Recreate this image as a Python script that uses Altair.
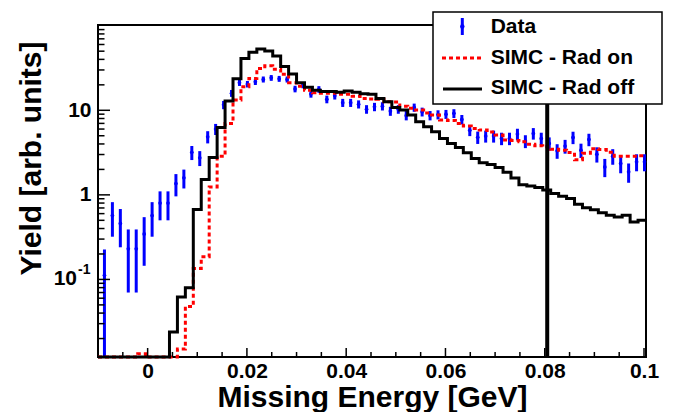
import altair as alt
import pandas as pd

# ---- histogram binning as drawn (GeV) ----
DATA_X0 = -0.0087   # centre of first data bin
SIM_X0 = -0.0100    # low edge of first SIMC bin
BIN_W = 0.0016
N_BINS = 69

# ---- data ----
data_y = [0.112, 0.57, 0.46, 0.23, 0.23, 0.345, 0.57, 0.80, 0.80, 1.36,
          1.59, 3.18, 2.74, 4.86, 6.0, 11.6, 15.9, 21.2, 20.4, 21.7,
          23.2, 24.2, 23.6, 23.2, 17.9, 19.9, 15.6, 17.7, 13.5, 14.9,
          12.3, 12.3, 11.8, 10.3, 11.0, 11.2, 9.8, 10.3, 8.7, 10.8,
          9.6, 8.7, 8.9, 9.0, 9.2, 7.8, 5.8, 4.8, 4.95, 4.95,
          4.65, 4.65, 5.23, 4.32, 5.33, 4.65, 4.06, 3.32, 3.77, 4.78,
          3.38, 4.52, 3.03, 2.14, 2.87, 2.35, 1.87, 2.46, 2.46]
data_err = [0.114, 0.25, 0.22, 0.16, 0.16, 0.2, 0.25, 0.3, 0.3, 0.4,
            0.4, 0.6, 0.55, 0.8, 0.9, 1.3, 1.5, 1.8, 1.8, 1.8,
            1.9, 1.9, 1.9, 1.9, 1.6, 1.7, 1.5, 1.6, 1.4, 1.5,
            1.35, 1.35, 1.3, 1.2, 1.25, 1.25, 1.2, 1.2, 1.1, 1.2,
            1.15, 1.1, 1.1, 1.1, 1.1, 1.0, 0.85, 0.8, 0.8, 0.8,
            0.78, 0.78, 0.82, 0.75, 0.83, 0.78, 0.72, 0.65, 0.7, 0.8,
            0.65, 0.76, 0.62, 0.52, 0.6, 0.55, 0.48, 0.56, 0.56]
rad_on = [0, 0, 0, 0, 0, 0.0132, 0, 0, 0, 0,
          0.015, 0.048, 0.135, 0.185, 1.24, 2.87, 7.0, 13.2, 19.0, 23.8,
          31.3, 33.6, 30.5, 26.6, 21.2, 19.3, 17.3, 16.1, 15.9, 15.9,
          15.5, 15.5, 14.7, 13.8, 13.6, 13.5, 12.6, 12.5, 11.2, 10.6,
          10.05, 9.3, 8.77, 7.66, 7.56, 7.0, 6.5, 6.1, 5.83, 5.53,
          5.09, 4.44, 4.38, 4.24, 3.98, 3.82, 3.70, 3.47, 3.38, 3.16,
          2.6, 3.1, 3.52, 3.43, 3.2, 2.87, 2.87, 2.87, 2.91]
rad_off = [0, 0, 0, 0, 0, 0, 0, 0, 0, 0.0239,
           0.062, 0.080, 0.671, 1.52, 2.77, 6.28, 12.9, 23.6, 41.1, 48.5,
           53.0, 50.2, 44.0, 33.0, 26.8, 21.2, 18.7, 17.3, 16.7, 16.7,
           16.3, 16.9, 16.4, 15.7, 15.5, 13.8, 12.6, 10.8, 10.05, 8.77,
           7.31, 6.38, 5.57, 4.65, 4.06, 3.64, 3.14, 2.70, 2.39, 2.29,
           2.11, 1.85, 1.58, 1.32, 1.27, 1.22, 1.14, 1.04, 0.965, 0.906,
           0.776, 0.706, 0.668, 0.616, 0.575, 0.549, 0.575, 0.479, 0.502]
cut_x = [0.0805]

x_ticks_major = [0, 0.02, 0.04, 0.06, 0.08, 0.1]
x_ticks_minor = [-0.005, 0.005, 0.01, 0.015, 0.025, 0.03, 0.035, 0.045, 0.05,
                 0.055, 0.065, 0.07, 0.075, 0.085, 0.09, 0.095]
y_ticks_major = [0.1, 1, 10]
y_ticks_minor = [0.02, 0.03, 0.04, 0.05, 0.06, 0.07, 0.08, 0.09,
                 0.2, 0.3, 0.4, 0.5, 0.6, 0.7, 0.8, 0.9,
                 2, 3, 4, 5, 6, 7, 8, 9,
                 20, 30, 40, 50, 60, 70, 80, 90]
y_label_values = [1, 10]
legend_labels = ["Data", "SIMC - Rad on", "SIMC - Rad off"]
x_title = "Missing Energy [GeV]"
y_title = "Yield [arb. units]"

YMIN, YMAX = 0.0121, 102
FONT = "Liberation Sans"
BLUE, RED = "#0000ff", "#ff0000"

xs = alt.Scale(domain=[-0.0100, 0.1004], nice=False, zero=False)
ys = alt.Scale(type="log", domain=[YMIN, YMAX], nice=False)

# ---- tables ----
df_data = pd.DataFrame({
    "x": [round(DATA_X0 + k * BIN_W, 6) for k in range(len(data_y))],
    "y": data_y, "err": data_err})
edges = [round(SIM_X0 + j * BIN_W, 6) for j in range(N_BINS + 1)]
df_on = pd.DataFrame({"x": edges, "y": rad_on + [rad_on[-1]]})
df_off = pd.DataFrame({"x": edges, "y": rad_off + [rad_off[-1]]})
one = pd.DataFrame({"a": [0]})

xaxis = alt.Axis(values=x_ticks_major, labelExpr="datum.value == 0 ? '0' : format(datum.value, '.2~f')",
                 domain=False, ticks=False, tickSize=0, grid=False, labelFont=FONT,
                 labelFontSize=21, labelFontWeight="bold", labelColor="black", labelPadding=3,
                 labelFlush=False, labelOverlap=False,
                 title=x_title, titleFont=FONT, titleFontSize=30, titleFontWeight="bold",
                 titleColor="black", titleX=274, titleY=49.5, titleAlign="center",
                 titleBaseline="alphabetic")
yaxis = alt.Axis(values=y_label_values, labelExpr="format(datum.value, '~g')",
                 domain=False, ticks=False, tickSize=0, grid=False, labelFont=FONT,
                 labelFontSize=21, labelFontWeight="bold", labelColor="black", labelPadding=7,
                 labelOverlap=False,
                 title=y_title, titleFont=FONT, titleFontSize=30, titleFontWeight="bold",
                 titleColor="black", titleX=-58, titleY=133, titleAngle=270,
                 titleAlign="center", titleBaseline="alphabetic")


def X(field):
    return alt.X(field, scale=xs, axis=xaxis)


def Y(field):
    return alt.Y(field, scale=ys, axis=yaxis)


clampcalc = dict(lo=f"max(datum.y - datum.err, {YMIN})", hi="datum.y + datum.err")

data_bars = alt.Chart(df_data).transform_calculate(**clampcalc).mark_rule(
    color=BLUE, strokeWidth=3).encode(x=X("x:Q"), y=Y("lo:Q"), y2="hi:Q")
data_pts = alt.Chart(df_data).mark_point(filled=True, color=BLUE, size=14, opacity=1).encode(
    x=X("x:Q"), y=Y("y:Q"))


def step(df, **kw):
    return alt.Chart(df).transform_calculate(
        yy=f"max(datum.y, {YMIN})").mark_line(interpolate="step-after", **kw).encode(
        x=X("x:Q"), y=Y("yy:Q"))


line_on = step(df_on, color=RED, strokeWidth=3, strokeDash=[4, 3])
line_off = step(df_off, color="black", strokeWidth=3)

cut = alt.Chart(pd.DataFrame({"c": cut_x})).mark_rule(color="black", strokeWidth=4).encode(
    x=X("c:Q"))


def yticks(vals, length):
    return alt.Chart(pd.DataFrame({"v": vals})).mark_rule(color="black", strokeWidth=1.5).encode(
        y=Y("v:Q"), x=alt.value(0), x2=alt.value(length))


def xticks(vals, length):
    return alt.Chart(pd.DataFrame({"v": vals})).mark_rule(color="black", strokeWidth=1.5).encode(
        x=X("v:Q"), y=alt.value(332), y2=alt.value(332 - length))


tenth = pd.DataFrame({"v": [0.1]})
lab10 = alt.Chart(tenth).mark_text(font=FONT, fontSize=21, fontWeight="bold", align="right",
                                   baseline="middle", color="black").encode(
    y=Y("v:Q"), x=alt.value(-21), text=alt.value("10"))
labexp = alt.Chart(tenth).mark_text(font=FONT, fontSize=14, fontWeight="bold", align="left",
                                    baseline="middle", color="black", dy=-9).encode(
    y=Y("v:Q"), x=alt.value(-20), text=alt.value("-1"))

# ---- legend ----
leg_box = alt.Chart(one).mark_rect(fill="white", stroke="black", strokeWidth=1.5).encode(
    x=alt.value(335), x2=alt.value(564), y=alt.value(-13), y2=alt.value(79))
leg_data = alt.Chart(one).mark_rule(color=BLUE, strokeWidth=3).encode(
    x=alt.value(364.3), y=alt.value(-7), y2=alt.value(10))
leg_dot = alt.Chart(one).mark_point(filled=True, color=BLUE, size=20, opacity=1).encode(
    x=alt.value(364.3), y=alt.value(1.5))
leg_on = alt.Chart(one).mark_rule(color=RED, strokeWidth=3, strokeDash=[4, 3]).encode(
    x=alt.value(344), x2=alt.value(384), y=alt.value(33))
leg_off = alt.Chart(one).mark_rule(color="black", strokeWidth=3).encode(
    x=alt.value(345), x2=alt.value(384), y=alt.value(64))


def leg_text(label, ypix):
    return alt.Chart(one).mark_text(font=FONT, fontSize=21, fontWeight="bold", align="left",
                                    baseline="middle", color="black").encode(
        x=alt.value(392.7), y=alt.value(ypix), text=alt.value(label))


chart = alt.layer(
    data_bars, data_pts, line_on, line_off, cut,
    yticks(y_ticks_major, 12), yticks(y_ticks_minor, 6.5),
    xticks(x_ticks_major, 9), xticks(x_ticks_minor, 5),
    lab10, labexp,
    leg_box, leg_data, leg_dot, leg_on, leg_off,
    leg_text(legend_labels[0], 2.3), leg_text(legend_labels[1], 33.3), leg_text(legend_labels[2], 63.3),
).properties(
    width=548, height=332,
    autosize=alt.AutoSizeParams(type="none"),
    padding={"left": 90, "top": 17, "right": 18, "bottom": 55},
    background="white",
).configure_view(stroke="black", strokeWidth=2)

chart.save("out.html", embed_options={"renderer": "svg", "actions": False})
